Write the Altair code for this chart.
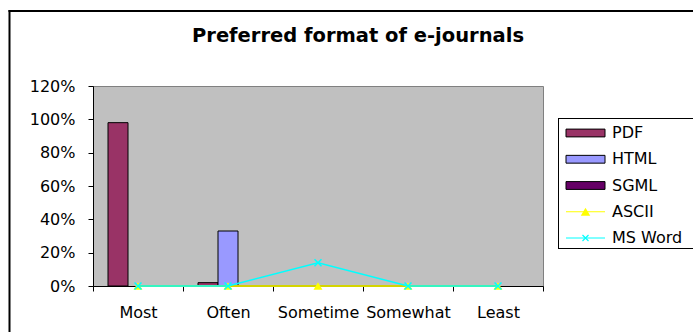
import altair as alt
import pandas as pd

categories = ["Most", "Often", "Sometime", "Somewhat", "Least"]
series_names = ["PDF", "HTML", "SGML", "ASCII", "MS Word"]
series_colors = ["#993366", "#9999FF", "#660066", "#FFFF00", "#00FFFF"]
bar_series = ["PDF", "HTML", "SGML"]
line_series = ["ASCII", "MS Word"]
pdf_values = [0.98, 0.02, 0, 0, 0]
html_values = [0, 0.33, 0, 0, 0]
sgml_values = [0, 0, 0, 0, 0]
ascii_values = [0, 0, 0, 0, 0]
msword_values = [0, 0, 0.14, 0, 0]
y_ticks = [0, 0.2, 0.4, 0.6, 0.8, 1.0, 1.2]
title_text = "Preferred format of e-journals"

rows = []
for name, vals in zip(series_names, [pdf_values, html_values, sgml_values, ascii_values, msword_values]):
    for c, v in zip(categories, vals):
        rows.append({"category": c, "series": name, "value": v})
df = pd.DataFrame(rows)
legend_df = pd.DataFrame({"series": series_names})

FONT = "DejaVu Sans"

color = alt.Color("series:N", scale=alt.Scale(domain=series_names, range=series_colors), legend=None)
x_enc = alt.X(
    "category:N", sort=categories,
    scale=alt.Scale(domain=categories, paddingInner=0, paddingOuter=0),
    axis=alt.Axis(title=None, tickBand="extent", labelAngle=0, labelFont=FONT, labelFontSize=16,
                  labelColor="black", labelBaseline="alphabetic", labelPadding=26, tickSize=5,
                  tickColor="black", domainColor="black", labelOverlap=False, labelLimit=0, grid=False),
)
y_scale = alt.Scale(domain=[0, 1.2], nice=False, zero=True)
y_axis = alt.Axis(title=None, values=y_ticks, format=".0%", labelFont=FONT, labelFontSize=16,
                  labelColor="black", labelPadding=13, tickSize=5, tickColor="black",
                  domainColor="black", grid=False)
y_plain = alt.Y("value:Q", scale=y_scale, axis=None)

bars = alt.Chart(df).transform_filter(
    alt.FieldOneOfPredicate(field="series", oneOf=bar_series)
).transform_filter(alt.datum.value > 0).mark_bar(stroke="black", strokeWidth=1, opacity=1).encode(
    x=x_enc,
    xOffset=alt.XOffset("series:N", sort=bar_series,
                        scale=alt.Scale(domain=bar_series, paddingInner=0, paddingOuter=0.75)),
    y=alt.Y("value:Q", scale=y_scale, axis=y_axis),
    color=color,
)

ascii_line = alt.Chart(df).transform_filter(alt.datum.series == "ASCII").mark_line(
    strokeWidth=2, color="#D4D400").encode(x=x_enc, y=y_plain)
ascii_pts = alt.Chart(df).transform_filter(alt.datum.series == "ASCII").mark_point(
    shape="triangle-up", filled=True, size=80, opacity=1).encode(x=x_enc, y=y_plain, color=color)
word_line = alt.Chart(df).transform_filter(alt.datum.series == "MS Word").mark_line(strokeWidth=1.5).encode(
    x=x_enc, y=y_plain, color=color)
word_pts = alt.Chart(df).transform_filter(alt.datum.series == "MS Word").mark_point(
    shape="M-1,-1L1,1M-1,1L1,-1", filled=False, size=49, strokeWidth=1.5, opacity=1).encode(
    x=x_enc, y=y_plain, color=color)

# legend
y_leg = alt.Y("series:N", scale=alt.Scale(type="point", domain=series_names, range=[47, 152], padding=0),
              axis=None)
one = alt.Data(values=[{}])
legend_fill = alt.Chart(one).mark_rect(fill="white", strokeWidth=0).encode(
    x=alt.value(465), x2=alt.value(600), y=alt.value(32), y2=alt.value(162))
leg_top = alt.Chart(one).mark_rule(color="black", strokeWidth=1).encode(
    x=alt.value(465), x2=alt.value(600), y=alt.value(32.5))
leg_bottom = alt.Chart(one).mark_rule(color="black", strokeWidth=1).encode(
    x=alt.value(465), x2=alt.value(600), y=alt.value(162.5))
leg_left = alt.Chart(one).mark_rule(color="black", strokeWidth=1).encode(
    x=alt.value(465.5), y=alt.value(32), y2=alt.value(163))
leg_rects = alt.Chart(legend_df).transform_filter(
    alt.FieldOneOfPredicate(field="series", oneOf=bar_series)
).mark_point(shape="M-1,-0.2H1V0.2H-1Z", size=1521, filled=True, stroke="black", strokeWidth=1, opacity=1).encode(
    x=alt.value(492.5), y=y_leg, color=color)
leg_rules = alt.Chart(legend_df).transform_filter(
    alt.FieldOneOfPredicate(field="series", oneOf=line_series)
).mark_rule(strokeWidth=1).encode(x=alt.value(473), x2=alt.value(512), y=y_leg, color=color)
leg_tri = alt.Chart(legend_df).transform_filter(alt.datum.series == "ASCII").mark_point(
    shape="triangle-up", filled=True, size=90, opacity=1).encode(x=alt.value(492.5), y=y_leg, color=color)
leg_x = alt.Chart(legend_df).transform_filter(alt.datum.series == "MS Word").mark_point(
    shape="M-1,-1L1,1M-1,1L1,-1", filled=False, size=36, strokeWidth=1.2, opacity=1).encode(
    x=alt.value(492.5), y=y_leg, color=color)
leg_text = alt.Chart(legend_df).mark_text(align="left", baseline="middle", font=FONT, fontSize=16,
                                          color="black").encode(x=alt.value(519), y=y_leg, text="series:N")

frame_top = alt.Chart(one).mark_rule(color="black", strokeWidth=2).encode(
    x=alt.value(-84.5), x2=alt.value(600), y=alt.value(-75))
frame_left = alt.Chart(one).mark_rule(color="black", strokeWidth=2).encode(
    x=alt.value(-83.5), y=alt.value(-76), y2=alt.value(246))
title = alt.Chart(one).mark_text(font=FONT, fontSize=19.5, fontWeight="bold", align="center",
                                 baseline="alphabetic", color="black").encode(
    x=alt.value(265), y=alt.value(-44), text=alt.value(title_text))

chart = alt.layer(
    frame_top, frame_left, legend_fill, leg_top, leg_bottom, leg_left,
    bars, ascii_line, ascii_pts, word_line, word_pts,
    leg_rects, leg_rules, leg_tri, leg_x, leg_text, title
).resolve_scale(y="independent").properties(
    width=450, height=200,
    autosize=alt.AutoSizeParams(type="none"),
    padding={"left": 93, "top": 86, "right": 150, "bottom": 46},
    background="white",
).configure_view(fill="#C0C0C0", stroke="#808080", strokeWidth=1)

chart.save("out.html", embed_options={"renderer": "svg", "actions": False})
